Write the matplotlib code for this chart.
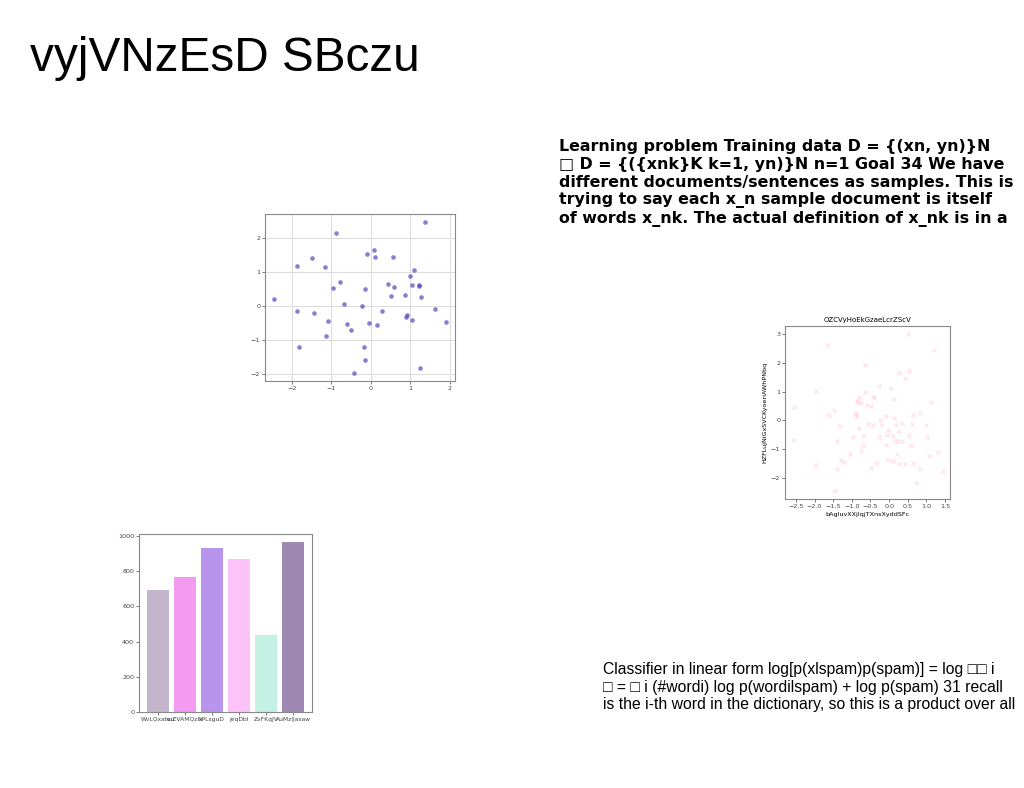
import matplotlib
matplotlib.use("Agg")
import matplotlib.pyplot as plt

# slide texts
slide_title = "vyjVNzEsD SBczu"
text_top = ("Learning problem Training data D = {(xn, yn)}N\n"
            "\u25a1 D = {({xnk}K k=1, yn)}N n=1 Goal 34 We have\n"
            "different documents/sentences as samples. This is\n"
            "trying to say each x_n sample document is itself\n"
            "of words x_nk. The actual definition of x_nk is in a")
text_bottom = ("Classifier in linear form log[p(xlspam)p(spam)] = log \u25a1\u25a1 i\n"
               "\u25a1 = \u25a1 i (#wordi) log p(wordilspam) + log p(spam) 31 recall\n"
               "is the i-th word in the dictionary, so this is a product over all")

# scatter 1 (blue dots)
s1_x = [-2.46, -1.86, -1.49, -1.15, -0.88, -0.78, -0.95, -1.86, -1.43, -1.08,
        -1.13, -1.81, -0.68, -0.61, -0.51, -0.43, -0.21, -0.15, -0.18, -0.15,
        -0.08, 0.08, 0.10, 0.57, -0.03, 0.17, 0.29, 0.43, 0.59, 0.52,
        0.86, 1.01, 1.10, 1.04, 1.22, 1.23, 1.28, 1.39, 0.89, 0.93,
        1.05, 1.63, 1.92, 1.25]
s1_y = [0.20, 1.17, 1.41, 1.13, 2.14, 0.71, 0.52, -0.16, -0.22, -0.44,
        -0.88, -1.22, 0.04, -0.52, -0.71, -1.98, 0.01, 0.50, -1.20, -1.60,
        1.51, 1.64, 1.44, 1.44, -0.50, -0.55, -0.14, 0.65, 0.56, 0.30,
        0.31, 0.87, 1.04, 0.60, 0.61, 0.57, 0.26, 2.47, -0.32, -0.28,
        -0.41, -0.09, -0.46, -1.81]

# scatter 2 (pink crosses)
s2_title = "OZCVyHoEkGzaeLcrZScV"
s2_xlabel = "bAgIuvXXjlqjTXnsXyddSFc"
s2_ylabel = "HZFLujNiGxSVCKyoeriAWhPNbq"
s2_x = [0.51, -1.66, 1.21, -0.64, 0.53, 0.26, 0.42, -1.96, -0.64, -0.28,
        0.05, -0.43, -0.40, 0.14, -0.80, -0.84, -0.86, -0.75, -0.60, -0.49,
        1.12, -2.55, -1.49, -1.62, -0.90, -0.92, -0.87, 0.84, -2.59, -1.31,
        -0.98, -1.41, -0.81, -0.56, -0.42, -0.24, -0.18, -0.08, 0.14, 0.35,
        0.18, -0.04, -0.27, -0.05, 0.10, 0.27, 0.52, 0.62, 0.64, 0.98,
        1.01, 0.59, -0.68, -0.71, -0.75, -0.09, 0.15, 0.23, 0.34, 0.20,
        -1.06, -1.20, -1.30, -0.32, -1.99, -0.02, 0.10, 0.27, 0.43, 0.64,
        -1.39, -0.48, 0.83, 1.06, 1.30, 1.43, 0.71, -1.44]
s2_y = [3.02, 2.64, 2.47, 1.93, 1.72, 1.66, 1.48, 1.02, 1.00, 1.20,
        1.13, 0.84, 0.78, 0.74, 0.83, 0.64, 0.66, 0.59, 0.53, 0.49,
        0.65, 0.45, 0.35, 0.20, 0.25, 0.20, 0.14, 0.25, -0.68, -0.21,
        -0.59, -0.71, -0.27, -0.14, -0.17, 0.00, -0.17, 0.17, 0.09, -0.08,
        -0.15, -0.35, -0.58, -0.50, -0.54, -0.38, -0.56, -0.12, 0.20, -0.16,
        -0.59, -0.87, -0.53, -0.87, -1.08, -0.87, -0.71, -0.71, -0.73, -1.17,
        -1.18, -1.45, -1.37, -1.50, -1.56, -1.37, -1.42, -1.52, -1.52, -1.50,
        -1.68, -1.66, -1.70, -1.23, -1.10, -1.75, -2.20, -2.47]

# bar chart
bar_labels = ["WvLQxatvu", "xuZVAMQzlk", "xPLsguD", "jeqDbl", "ZvFKqJV", "AuMzIJasaw"]
bar_values = [693, 767, 930, 866, 439, 962]
bar_colors = ["#c3b5cc", "#f39bf1", "#b994ec", "#fdc3f8", "#c4f1e4", "#9f89b2"]

fig = plt.figure(figsize=(10.24, 7.88), dpi=100)
fig.patch.set_facecolor("white")

fig.text(30 / 1024, 1 - 71 / 788, slide_title, fontsize=34.4,
         family=["Liberation Sans", "DejaVu Sans"], va="baseline")
fig.text(559 / 1024, 1 - 139 / 788, text_top, fontsize=11.4, fontweight="bold",
         family="DejaVu Sans", va="top", linespacing=1.23)
fig.text(603 / 1024, 1 - 662 / 788, text_bottom, fontsize=11.3,
         family=["Liberation Sans", "DejaVu Sans"], va="top", linespacing=1.22)


def style_axes(ax, grid):
    for sp in ax.spines.values():
        sp.set_color("#888888")
        sp.set_linewidth(0.8)
    ax.tick_params(labelsize=4.6, length=2, width=0.5, colors="#444444", pad=1.5)
    if grid:
        ax.grid(True, color="#dddddd", linewidth=0.8)
        ax.set_axisbelow(True)


ax1 = fig.add_axes([265 / 1024, 1 - 381 / 788, 190 / 1024, 167 / 788])
ax1.scatter(s1_x, s1_y, s=11, color="#4a3bb8", alpha=0.65, linewidths=0)
ax1.set_xticks([-2, -1, 0, 1, 2])
ax1.set_yticks([-2, -1, 0, 1, 2])
style_axes(ax1, True)

ax2 = fig.add_axes([785 / 1024, 1 - 499 / 788, 165 / 1024, 173 / 788])
ax2.scatter(s2_x, s2_y, marker="x", s=9, color="#ffc4d2", alpha=0.6, linewidths=0.7)
ax2.set_title(s2_title, fontsize=5, pad=3)
ax2.set_xlabel(s2_xlabel, fontsize=4.6, labelpad=2)
ax2.set_ylabel(s2_ylabel, fontsize=4.6, labelpad=2)
ax2.set_xticks([-2.5, -2.0, -1.5, -1.0, -0.5, 0.0, 0.5, 1.0, 1.5])
style_axes(ax2, False)

ax3 = fig.add_axes([139 / 1024, 1 - 712 / 788, 173 / 1024, 178 / 788])
ax3.bar(range(len(bar_values)), bar_values, color=bar_colors)
ax3.set_xticks(range(len(bar_labels)))
ax3.set_xticklabels(bar_labels)
ax3.set_yticks([0, 200, 400, 600, 800, 1000])
style_axes(ax3, False)
ax3.tick_params(axis="x", labelsize=4.3)

fig.savefig("out.png", dpi=100)
